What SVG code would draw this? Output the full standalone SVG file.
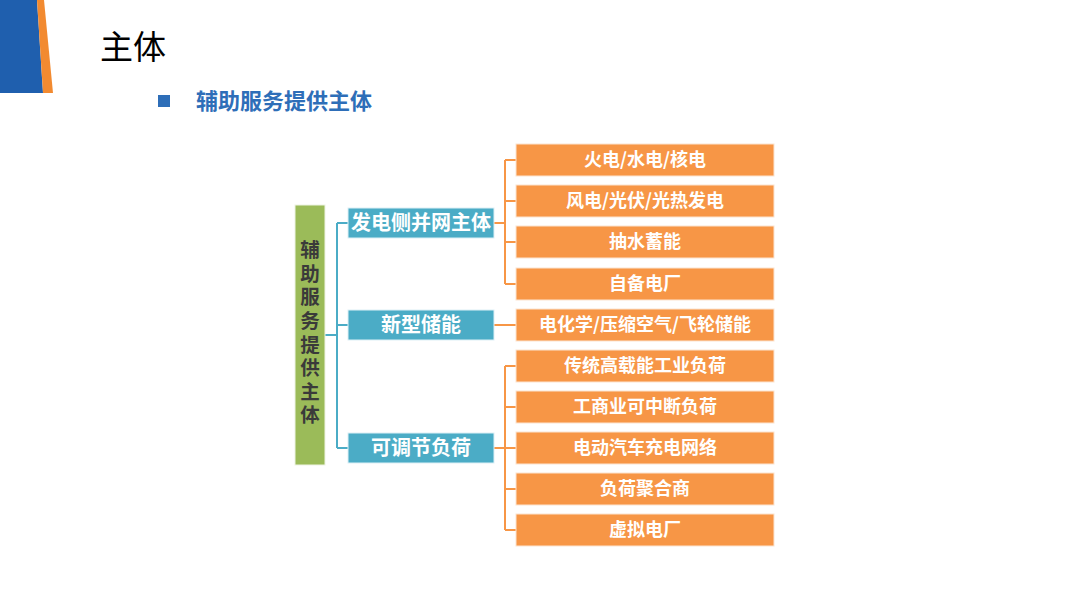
<svg xmlns="http://www.w3.org/2000/svg" width="1080" height="608" viewBox="0 0 1080 608">
<style>
.cjk{font-family:"Noto Sans CJK SC","Noto Sans",sans-serif;font-weight:bold}
.ob{fill:#F79646;stroke:#FCE4D0;stroke-width:1}
.bb{fill:#4BACC6;stroke:#DDF0F6;stroke-width:1}
.ot{fill:#FFFFFF;font-size:18px;text-anchor:middle}
.bt{fill:#FFFFFF;font-size:20px;text-anchor:middle}
.lb{fill:none;stroke:#4BACC6;stroke-width:2}
.lo{fill:none;stroke:#F79646;stroke-width:2}
</style>
<rect width="1080" height="608" fill="#FFFFFF"/>
<g id="deco">
<polygon points="0,0 37,0 43,93 0,93" fill="#1F5FAE"/>
<polygon points="37,0 44,0 53,93 43,93" fill="#F28A30"/>
</g>
<text id="title" x="100" y="59" font-family="'Noto Sans CJK SC',sans-serif" font-size="33" fill="#000000">主体</text>
<g id="subtitle">
<rect x="158" y="95" width="12" height="12" fill="#2E6EB8"/>
<text class="cjk" x="196" y="109" font-size="22" fill="#2E6EB8">辅助服务提供主体</text>
</g>
<g id="connectors">
<path class="lb" d="M325,335 H337 M337,223 V448 M337,223 H348 M337,325 H348 M337,448 H348"/>
<path class="lo" d="M494,223 H505 M505,160 V284 M505,160 H516 M505,201 H516 M505,242 H516 M505,284 H516"/>
<path class="lo" d="M494,325 H516"/>
<path class="lo" d="M494,448 H505 M505,366 V530 M505,366 H516 M505,407 H516 M505,448 H516 M505,489 H516 M505,530 H516"/>
</g>
<g id="root">
<rect x="295" y="205" width="30" height="260" fill="#9BBB59" stroke="#EEF3E4" stroke-width="1"/>
<text class="cjk" x="310" y="240" font-size="19.5" fill="#3A3A3A" writing-mode="vertical-rl" letter-spacing="4.1">辅助服务提供主体</text>
</g>
<g id="b1"><rect class="bb" x="348" y="208" width="146" height="30"/><text class="cjk bt" x="421" y="230">发电侧并网主体</text></g>
<g id="b2"><rect class="bb" x="348" y="310" width="146" height="30"/><text class="cjk bt" x="421" y="332">新型储能</text></g>
<g id="b3"><rect class="bb" x="348" y="433" width="146" height="30"/><text class="cjk bt" x="421" y="455">可调节负荷</text></g>
<g id="o1"><rect class="ob" x="516" y="144" width="258" height="32"/><text class="cjk ot" x="645" y="166">火电/水电/核电</text></g>
<g id="o2"><rect class="ob" x="516" y="185" width="258" height="32"/><text class="cjk ot" x="645" y="207">风电/光伏/光热发电</text></g>
<g id="o3"><rect class="ob" x="516" y="226" width="258" height="32"/><text class="cjk ot" x="645" y="248">抽水蓄能</text></g>
<g id="o4"><rect class="ob" x="516" y="268" width="258" height="32"/><text class="cjk ot" x="645" y="290">自备电厂</text></g>
<g id="o5"><rect class="ob" x="516" y="309" width="258" height="32"/><text class="cjk ot" x="645" y="331">电化学/压缩空气/飞轮储能</text></g>
<g id="o6"><rect class="ob" x="516" y="350" width="258" height="32"/><text class="cjk ot" x="645" y="372">传统高载能工业负荷</text></g>
<g id="o7"><rect class="ob" x="516" y="391" width="258" height="32"/><text class="cjk ot" x="645" y="413">工商业可中断负荷</text></g>
<g id="o8"><rect class="ob" x="516" y="432" width="258" height="32"/><text class="cjk ot" x="645" y="454">电动汽车充电网络</text></g>
<g id="o9"><rect class="ob" x="516" y="473" width="258" height="32"/><text class="cjk ot" x="645" y="495">负荷聚合商</text></g>
<g id="o10"><rect class="ob" x="516" y="514" width="258" height="32"/><text class="cjk ot" x="645" y="536">虚拟电厂</text></g>
</svg>
